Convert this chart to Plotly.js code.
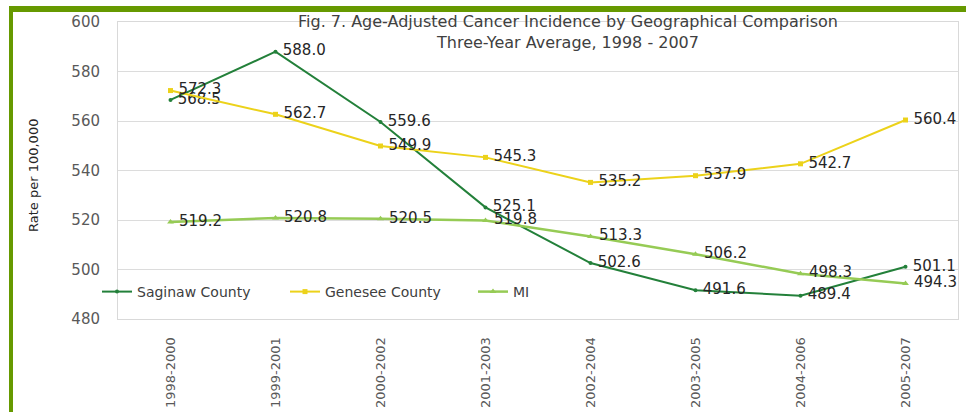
<!DOCTYPE html>
<html>
<head>
<meta charset="utf-8">
<script src="https://cdn.plot.ly/plotly-3.0.1.min.js"></script>
<style>
  html, body { margin: 0; padding: 0; background: #ffffff; }
  #wrap { position: relative; width: 966px; height: 412px; overflow: hidden; }
  #frame {
    position: absolute; left: 9px; top: 6px; width: 957px; height: 406px;
    border-top: 6px solid #669900; border-left: 4px solid #669900;
    box-sizing: border-box; pointer-events: none;
  }
  #chart { position: absolute; left: 0; top: 0; width: 966px; height: 412px; }
</style>
</head>
<body>
<div id="wrap">
  <div id="frame"></div>
  <div id="chart"></div>
</div>
<script>
// Three-year averaging periods
const periods = ["1998-2000", "1999-2001", "2000-2002", "2001-2003",
                 "2002-2004", "2003-2005", "2004-2006", "2005-2007"];

// Age-adjusted incidence rates per 100,000
const saginaw = [568.5, 588.0, 559.6, 525.1, 502.6, 491.6, 489.4, 501.1];
const genesee = [572.3, 562.7, 549.9, 545.3, 535.2, 537.9, 542.7, 560.4];
const michigan = [519.2, 520.8, 520.5, 519.8, 513.3, 506.2, 498.3, 494.3];

const seriesNames = ["Saginaw County", "Genesee County", "MI"];
const yTicks = [480, 500, 520, 540, 560, 580, 600];

const FONT = "DejaVu Sans, Verdana, sans-serif";
const labelFont = { family: FONT, size: 15, color: "#262626" };

function series(name, values, color, symbol, msize, width) {
  return {
    type: "scatter",
    mode: "lines+markers+text",
    name: name,
    x: periods,
    y: values,
    // value labels sit a little to the right of each point
    text: values.map(v => "\u2005" + v.toFixed(1)),
    textposition: "middle right",
    textfont: labelFont,
    cliponaxis: false,
    line: { color: color, width: width },
    marker: { color: color, symbol: symbol, size: msize },
    hoverinfo: "x+y+name"
  };
}

const traces = [
  series(seriesNames[0], saginaw, "#23803a", "circle", 4, 2),
  series(seriesNames[1], genesee, "#ecd21a", "square", 5, 2),
  series(seriesNames[2], michigan, "#96cb55", "triangle-up", 6, 2.5)
];

const layout = {
  width: 966,
  height: 412,
  margin: { l: 118, r: 8, t: 22, b: 93, pad: 0, autoexpand: false },
  paper_bgcolor: "rgba(0,0,0,0)",
  plot_bgcolor: "#ffffff",
  font: { family: FONT, color: "#404040" },
  showlegend: true,
  title: {
    text: "Fig. 7. Age-Adjusted Cancer Incidence by Geographical Comparison<br>Three-Year Average, 1998 - 2007",
    font: { family: FONT, size: 16, color: "#404040" },
    xref: "container", x: 568 / 966, xanchor: "center",
    yref: "container", y: 1 - 27 / 412, yanchor: "top"
  },
  xaxis: {
    type: "category",
    range: [-0.5, 7.5],
    tickangle: -90,
    tickfont: { family: FONT, size: 13, color: "#595959" },
    ticks: "",
    ticklabelstandoff: 12,
    showgrid: false,
    showline: true, mirror: true, linecolor: "#d9d9d9", linewidth: 1,
    zeroline: false,
    automargin: false
  },
  yaxis: {
    range: [480, 600],
    tickvals: yTicks,
    ticktext: yTicks.map(String),
    tickfont: { family: FONT, size: 15, color: "#595959" },
    ticks: "",
    ticklabelstandoff: 14,
    showgrid: true, gridcolor: "#dcdcdc", gridwidth: 1,
    showline: true, mirror: true, linecolor: "#d9d9d9", linewidth: 1,
    zeroline: false,
    automargin: false
  },
  // vertical axis caption, set in the left margin
  annotations: [{
    text: "Rate per 100,000",
    xref: "paper", yref: "paper",
    x: (33 - 118) / 840, y: (319 - 176) / 297,
    xanchor: "center", yanchor: "middle",
    textangle: -90,
    showarrow: false,
    font: { family: FONT, size: 13, color: "#262626" }
  }],
  legend: {
    orientation: "h",
    xref: "container",
    x: 97 / 966, xanchor: "left",
    y: (319 - 292) / 297, yanchor: "middle",
    bgcolor: "rgba(0,0,0,0)",
    font: { family: FONT, size: 14, color: "#404040" },
    itemwidth: 30,
    entrywidth: 143,
    entrywidthmode: "pixels",
    traceorder: "normal"
  }
};

Plotly.newPlot("chart", traces, layout, { displayModeBar: false, staticPlot: true });
</script>
</body>
</html>
